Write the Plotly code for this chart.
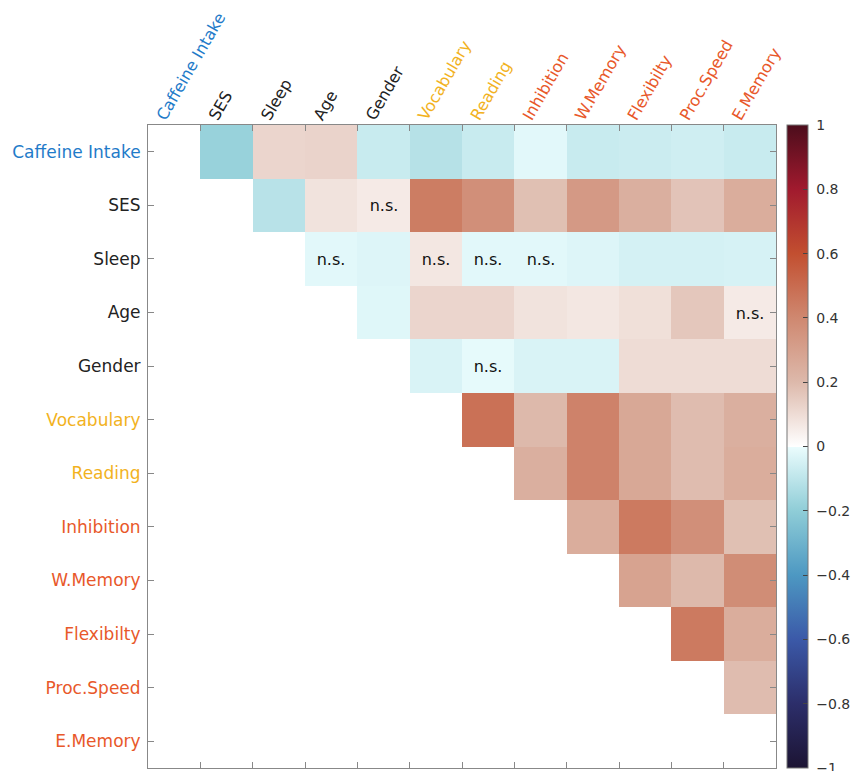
import plotly.graph_objects as go

labels = ["Caffeine Intake", "SES", "Sleep", "Age", "Gender", "Vocabulary", "Reading",
          "Inhibition", "W.Memory", "Flexibilty", "Proc.Speed", "E.Memory"]
label_colors = ["#1f7bc9", "#222222", "#222222", "#222222", "#222222", "#f2b21e", "#f2b21e",
                "#e8582a", "#e8582a", "#e8582a", "#e8582a", "#e8582a"]

# upper-triangle correlations, row i -> columns i+1 .. 11
row_caffeine = [-0.18, 0.12, 0.125, -0.075, -0.116, -0.075, -0.02, -0.075, -0.07, -0.06, -0.075]
row_ses = [-0.11, 0.08, 0.06, 0.44, 0.37, 0.18, 0.33, 0.24, 0.17, 0.25]
row_sleep = [-0.02, -0.03, 0.07, -0.02, -0.02, -0.03, -0.05, -0.05, -0.045]
row_age = [-0.025, 0.12, 0.12, 0.08, 0.07, 0.09, 0.16, 0.06]
row_gender = [-0.04, -0.01, -0.04, -0.04, 0.10, 0.10, 0.10]
row_vocab = [0.48, 0.20, 0.42, 0.27, 0.19, 0.24]
row_reading = [0.24, 0.42, 0.27, 0.19, 0.25]
row_inhibition = [0.25, 0.45, 0.37, 0.18]
row_wmemory = [0.29, 0.20, 0.38]
row_flex = [0.45, 0.25]
row_proc = [0.19]
rows = [row_caffeine, row_ses, row_sleep, row_age, row_gender, row_vocab, row_reading,
        row_inhibition, row_wmemory, row_flex, row_proc, []]

# non-significant pairs (row label, column label)
ns_pairs = [("SES", "Gender"), ("Sleep", "Age"), ("Sleep", "Vocabulary"), ("Sleep", "Reading"),
            ("Sleep", "Inhibition"), ("Age", "E.Memory"), ("Gender", "Reading")]

n = len(labels)
z = [[None] * n for _ in range(n)]
txt = [[""] * n for _ in range(n)]
for i, r in enumerate(rows):
    for k, v in enumerate(r):
        z[i][i + 1 + k] = v
for a, b in ns_pairs:
    txt[labels.index(a)][labels.index(b)] = "n.s."

colorscale = [
    [0.0, "#1c1433"], [0.1, "#2c2e6a"], [0.2, "#3b59a8"], [0.3, "#4d98c2"],
    [0.4, "#8fcdd7"], [0.499, "#eafcfd"], [0.5, "#ffffff"], [0.6, "#ddb9ab"],
    [0.7, "#cf8870"], [0.8, "#c24f30"], [0.9, "#a11a2e"], [1.0, "#4c0d1c"],
]

FONT = "DejaVu Sans"
tick_text = [f"<span style='color:{c}'>{l}</span>" for l, c in zip(labels, label_colors)]
idx = list(range(n))
cb_vals = [-1, -0.8, -0.6, -0.4, -0.2, 0, 0.2, 0.4, 0.6, 0.8, 1]
cb_text = ["\u00a0\u22121", "\u00a0\u22120.8", "\u00a0\u22120.6", "\u00a0\u22120.4",
           "\u00a0\u22120.2", "\u00a00", "\u00a00.2", "\u00a00.4", "\u00a00.6", "\u00a00.8", "\u00a01"]

fig = go.Figure(go.Heatmap(
    z=z, x=idx, y=idx, text=txt, texttemplate="%{text}",
    textfont=dict(family=FONT, size=16, color="#111111"),
    colorscale=colorscale, zmin=-1, zmax=1, hoverongaps=False,
    colorbar=dict(
        x=1.0175, xanchor="left", y=1, yanchor="top", len=1, lenmode="fraction",
        xpad=0, ypad=0,
        thickness=21, thicknessmode="pixels", outlinecolor="#777777", outlinewidth=1,
        tickvals=cb_vals, ticktext=cb_text,
        ticks="inside", ticklen=5, tickcolor="#444444",
        tickfont=dict(family=FONT, size=14, color="#333333"),
    ),
))

fig.update_xaxes(
    side="top", range=[-0.5, n - 0.5], tickvals=[k - 0.3 for k in idx], ticktext=tick_text,
    tickangle=-60, ticks="", tickfont=dict(family=FONT, size=16), showgrid=False,
    zeroline=False, automargin=False, ticklabelstandoff=-8,
    showline=True, linecolor="#888888", linewidth=1, mirror="allticks",
    minor=dict(tickvals=[k + 0.5 for k in range(n - 1)], ticks="inside", ticklen=6,
               tickcolor="#888888", showgrid=False),
)
fig.update_yaxes(
    range=[n - 0.5, -0.5], tickvals=idx, ticktext=tick_text, ticks="inside", ticklen=6,
    tickcolor="#888888", tickfont=dict(family=FONT, size=17), showgrid=False,
    zeroline=False, showline=True, linecolor="#888888", linewidth=1, mirror="allticks",
    ticklabelstandoff=3, automargin=False,
)
fig.update_layout(
    width=862, height=771, margin=dict(l=140, r=94, t=117, b=11, autoexpand=False),
    plot_bgcolor="white", paper_bgcolor="white",
)
fig.write_html("out.html")
